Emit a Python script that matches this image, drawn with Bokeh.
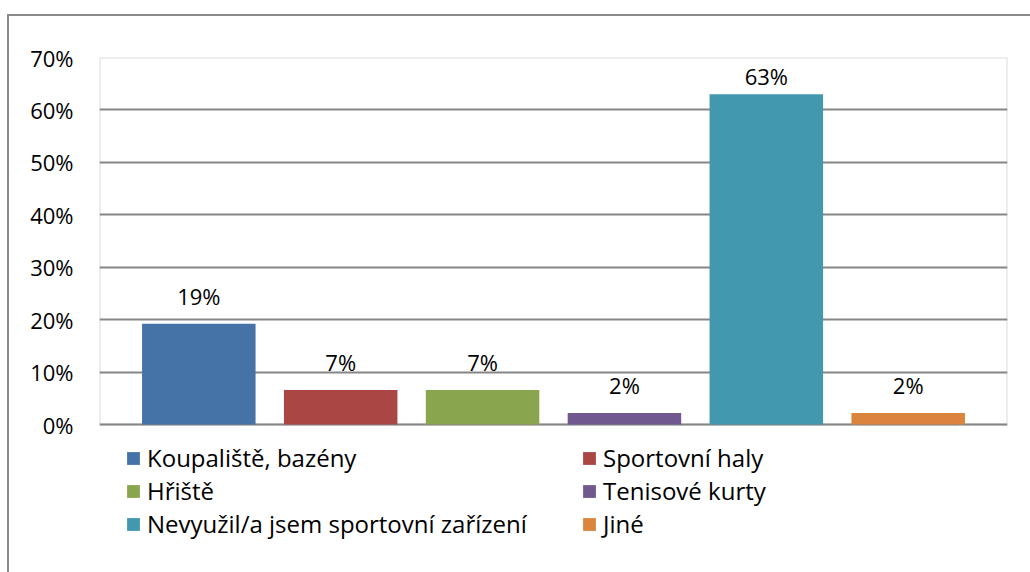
from bokeh.plotting import figure
from bokeh.models import (ColumnDataSource, Legend, LegendItem, LabelSet, NumeralTickFormatter,
                          FixedTicker, Range1d, BoxAnnotation, FactorRange)
from bokeh.core.properties import value
from bokeh.embed import file_html
from bokeh.resources import INLINE

categories = ["Koupaliště, bazény", "Sportovní haly", "Hřiště", "Tenisové kurty",
              "Nevyužil/a jsem sportovní zařízení", "Jiné"]
values = [0.192, 0.066, 0.066, 0.022, 0.63, 0.022]
labels = ["19%", "7%", "7%", "2%", "63%", "2%"]
colors = ["#4572A7", "#AA4643", "#89A54E", "#71588F", "#4198AF", "#DB843D"]
y_ticks = [0, 0.1, 0.2, 0.3, 0.4, 0.5, 0.6, 0.7]

FONT = "Open Sans"
FS = "22px"
LEG_FS = "24px"
Y_MAX = 0.7

# layout: plot area 367 px tall for 0..70 %, frame extended below to host the legend
PLOT_H = 367
FRAME_H = 515
px_per_unit = PLOT_H / Y_MAX
y_min = Y_MAX - FRAME_H / px_per_unit

# data labels sit above bars, but are kept inside the plot area (as in the original)
offsets = [min(13, (Y_MAX - v) * px_per_unit - 33) for v in values]

src = ColumnDataSource(dict(x=categories, top=values, color=colors, label=labels, off=offsets))

p = figure(x_range=FactorRange(*categories, range_padding=0.2, range_padding_units="absolute"),
           y_range=Range1d(y_min, Y_MAX), width=1021, height=556,
           output_backend="svg", toolbar_location=None,
           min_border_left=90, min_border_top=41, min_border_right=23, min_border_bottom=0)
p.frame_width = 908
p.frame_height = FRAME_H
p.styles = {"margin-left": "7px", "margin-top": "14px",
            "border-left": "2px solid #898989", "border-top": "2px solid #898989"}

r = p.vbar(x="x", top="top", bottom=0, width=0.8, color="color", source=src, line_color=None)

p.add_layout(LabelSet(x="x", y="top", text="label", source=src, y_offset="off",
                      text_align="center", text_baseline="bottom",
                      text_font=value(FONT), text_font_size=value(FS), text_color="#000000"))

p.xaxis.visible = False
p.yaxis.ticker = FixedTicker(ticks=y_ticks)
p.yaxis.formatter = NumeralTickFormatter(format="0%")
p.yaxis.axis_line_color = None
p.yaxis.major_tick_line_color = None
p.yaxis.minor_tick_line_color = None
p.yaxis.major_label_text_font = FONT
p.yaxis.major_label_text_font_size = FS
p.yaxis.major_label_text_color = "#000000"
p.yaxis.major_label_standoff = 20

p.xgrid.grid_line_color = None
p.ygrid.grid_line_color = "#868686"
p.ygrid.grid_line_width = 2
p.outline_line_color = None
p.background_fill_color = "white"
p.border_fill_color = "white"

# plot-area border (0..70 %)
p.add_layout(BoxAnnotation(bottom=0, top=Y_MAX, fill_alpha=0, line_color="#868686",
                           line_width=2, level="underlay"))

for idxs, vx in (((0, 2, 4), 26), ((1, 3, 5), 482)):
    items = [LegendItem(label=categories[i], renderers=[r], index=i) for i in idxs]
    lg = Legend(items=items, location=(vx, 32), orientation="vertical",
                glyph_width=16, glyph_height=16, label_standoff=6, spacing=-5,
                padding=0, margin=0, border_line_color=None, background_fill_alpha=0,
                label_text_font=FONT, label_text_font_size=LEG_FS, label_text_color="#000000",
                label_height=22)
    p.add_layout(lg)

open("out.html", "w").write(file_html(p, INLINE))
